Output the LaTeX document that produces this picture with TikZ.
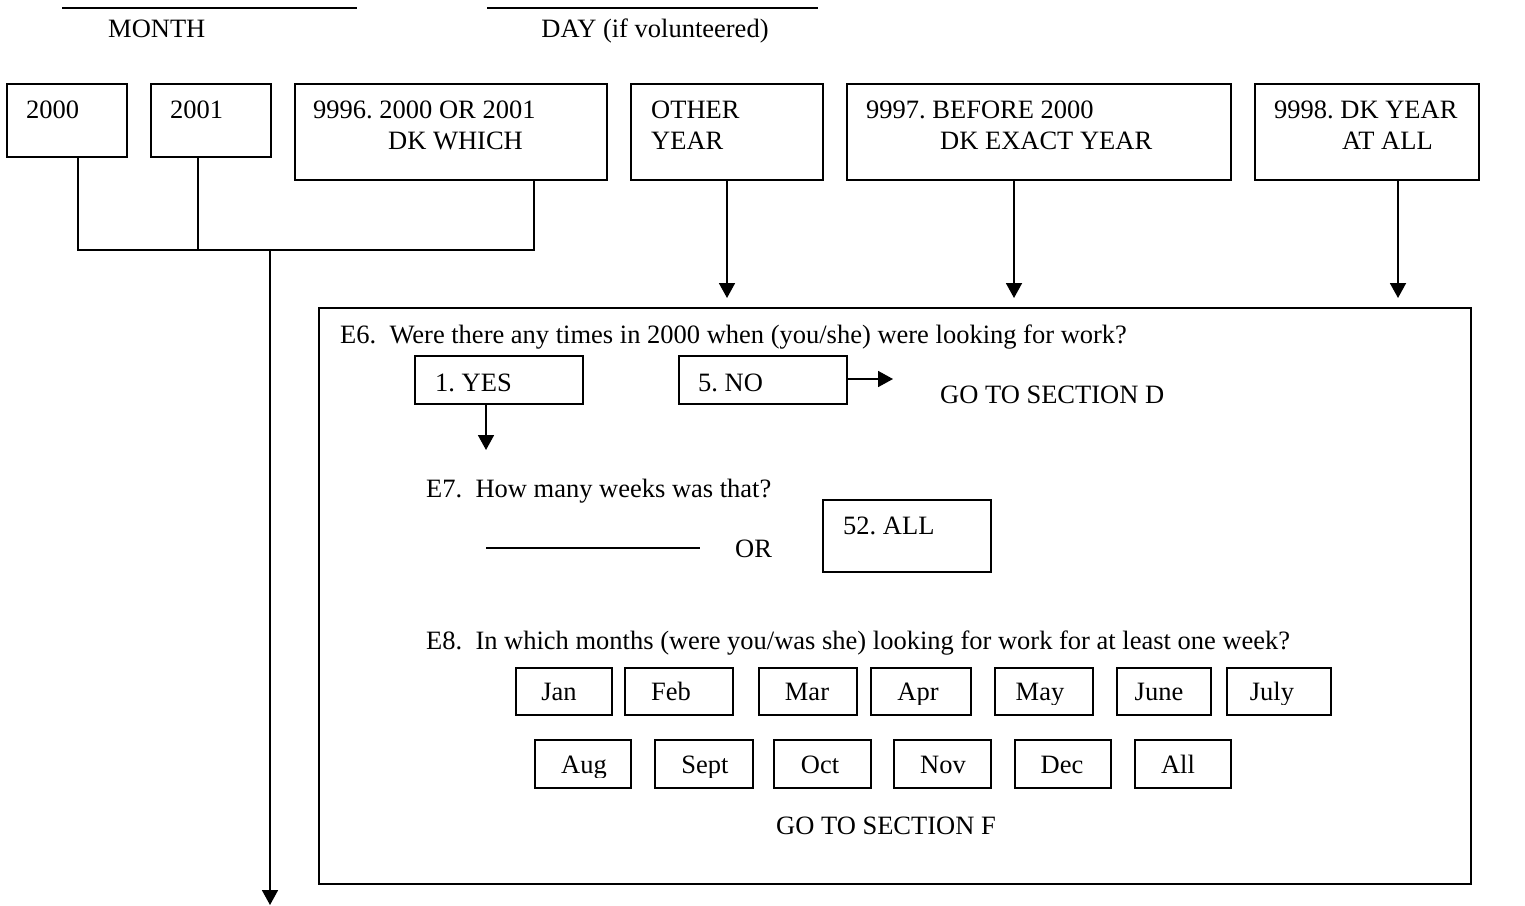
\documentclass[tikz,border=0pt]{standalone}
\usepackage{fontspec}
\setmainfont{Liberation Serif}
\usetikzlibrary{arrows.meta}
\frenchspacing
\begin{document}
\begin{tikzpicture}[x=1pt,y=-1pt,
  box/.style={draw, line width=1.8pt, inner sep=0pt, anchor=north west},
  lbl/.style={inner sep=0pt, anchor=base west, font=\fontsize{26.5}{30}\selectfont},
  clbl/.style={lbl, anchor=base},
  rule/.style={line width=1.2pt},
  conn/.style={line width=1.8pt},
  arr/.style={conn, -{Triangle[length=15pt,width=16pt]}},
]
\useasboundingbox (0,0) rectangle (1525,905);

% header blanks
\coordinate (m1) at (62,8); \coordinate (m2) at (357,8);
\coordinate (d1) at (487,8); \coordinate (d2) at (818,8);
\draw[rule] (m1) -- (m2);
\draw[rule] (d1) -- (d2);
\node[lbl] (tmonth) at (108,37) {MONTH};
\node[clbl] (tday) at (655,37) {DAY (if volunteered)};

% year boxes
\node[box, minimum width=120pt, minimum height=73pt] (b2000) at (6,83) {};
\node[box, minimum width=120pt, minimum height=73pt] (b2001) at (150,83) {};
\node[box, minimum width=312pt, minimum height=96pt] (b9996) at (294,83) {};
\node[box, minimum width=192pt, minimum height=96pt] (bother) at (630,83) {};
\node[box, minimum width=384pt, minimum height=96pt] (b9997) at (846,83) {};
\node[box, minimum width=224pt, minimum height=96pt] (b9998) at (1254,83) {};

\node[lbl] (t2000) at (26,118) {2000};
\node[lbl] (t2001) at (170,118) {2001};
\node[lbl] (t9996a) at (313,118) {9996. 2000 OR 2001};
\node[lbl] (t9996b) at (388,149) {DK WHICH};
\node[lbl] (tothera) at (651,118) {OTHER};
\node[lbl] (totherb) at (651,149) {YEAR};
\node[lbl] (t9997a) at (866,118) {9997. BEFORE 2000};
\node[lbl] (t9997b) at (940,149) {DK EXACT YEAR};
\node[lbl] (t9998a) at (1274,118) {9998. DK YEAR};
\node[lbl] (t9998b) at (1342,149) {AT ALL};

% join of 2000 / 2001 / 9996
\coordinate (jL) at (78,250);
\coordinate (jM) at (198,250);
\coordinate (jR) at (534,250);
\coordinate (jD) at (270,250);
\coordinate (bottom) at (270,905);
\draw[conn] (b2000.south -| jL) -- (jL) -- (jR) -- (b9996.south -| jR);
\draw[conn] (b2001.south -| jM) -- (jM);
\draw[arr] (jD) -- (bottom);

% main box
\node[box, minimum width=1152pt, minimum height=576pt] (main) at (318,307) {};
\coordinate (aO) at (727,298);
\coordinate (a7) at (1014,298);
\coordinate (a8) at (1398,298);
\draw[arr] (bother.south -| aO) -- (aO);
\draw[arr] (b9997.south -| a7) -- (a7);
\draw[arr] (b9998.south -| a8) -- (a8);

% E6
\node[lbl] (te6) at (340,343) {E6.\ \ Were there any times in 2000 when (you/she) were looking for work?};
\node[box, minimum width=168pt, minimum height=48pt] (byes) at (414,355) {};
\node[box, minimum width=168pt, minimum height=48pt] (bno) at (678,355) {};
\node[lbl] (tyes) at (435,391) {1. YES};
\node[lbl] (tno) at (698,391) {5. NO};
\coordinate (noend) at (893,379);
\coordinate (yesend) at (486,450);
\draw[arr] (bno.east |- noend) -- (noend);
\draw[arr] (byes.south -| yesend) -- (yesend);
\node[lbl] (tgod) at (940,403) {GO TO SECTION D};

% E7
\node[lbl] (te7) at (426,497) {E7.\ \ How many weeks was that?};
\coordinate (w1) at (486,548); \coordinate (w2) at (700,548);
\draw[rule] (w1) -- (w2);
\node[lbl] (tor) at (735,557) {OR};
\node[box, minimum width=168pt, minimum height=72pt] (b52) at (822,499) {};
\node[lbl] (t52) at (843,534) {52. ALL};

% E8
\node[lbl] (te8) at (426,649) {E8.\ \ In which months (were you/was she) looking for work for at least one week?};

\node[box, minimum width=96pt, minimum height=47pt] (bjan) at (515,667) {};
\node[box, minimum width=108pt, minimum height=47pt] (bfeb) at (624,667) {};
\node[box, minimum width=98pt, minimum height=47pt] (bmar) at (758,667) {};
\node[box, minimum width=100pt, minimum height=47pt] (bapr) at (870,667) {};
\node[box, minimum width=98pt, minimum height=47pt] (bmay) at (994,667) {};
\node[box, minimum width=94pt, minimum height=47pt] (bjun) at (1116,667) {};
\node[box, minimum width=104pt, minimum height=47pt] (bjul) at (1226,667) {};

\node[box, minimum width=96pt, minimum height=48pt] (baug) at (534,739) {};
\node[box, minimum width=98pt, minimum height=48pt] (bsep) at (654,739) {};
\node[box, minimum width=97pt, minimum height=48pt] (boct) at (773,739) {};
\node[box, minimum width=97pt, minimum height=48pt] (bnov) at (893,739) {};
\node[box, minimum width=96pt, minimum height=48pt] (bdec) at (1014,739) {};
\node[box, minimum width=96pt, minimum height=48pt] (ball) at (1134,739) {};

\begin{scope}
\clip (0,0) rectangle (1525,704);
\node[clbl] (tjan) at (559,700) {Jan};
\node[clbl] (tfeb) at (671,700) {Feb};
\node[clbl] (tmar) at (807,700) {Mar};
\node[clbl] (tapr) at (918,700) {Apr};
\node[clbl] (tmay) at (1040,700) {May};
\node[clbl] (tjun) at (1159,700) {June};
\node[clbl] (tjul) at (1272,700) {July};
\end{scope}
\begin{scope}
\clip (0,715) rectangle (1525,777);
\node[clbl] (taug) at (584,773) {Aug};
\node[clbl] (tsep) at (705,773) {Sept};
\node[clbl] (toct) at (820,773) {Oct};
\node[clbl] (tnov) at (943,773) {Nov};
\node[clbl] (tdec) at (1062,773) {Dec};
\node[clbl] (tall) at (1178,773) {All};
\end{scope}

\node[clbl] (tgof) at (886,834) {GO TO SECTION F};
\end{tikzpicture}
\end{document}
